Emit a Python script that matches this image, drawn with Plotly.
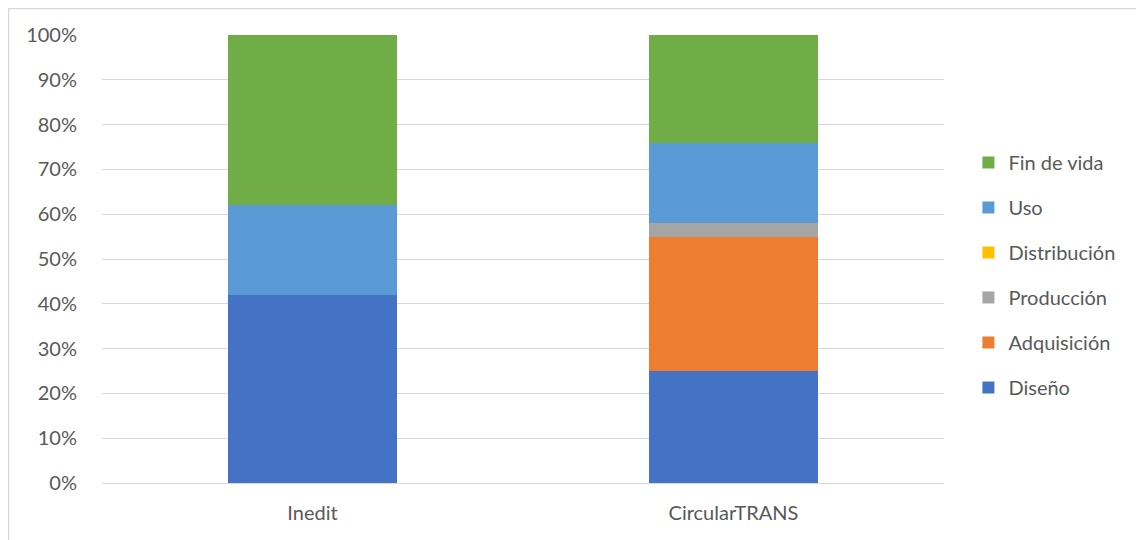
import plotly.graph_objects as go

categories = ["Inedit", "CircularTRANS"]
series_names = ["Diseño", "Adquisición", "Producción", "Distribución", "Uso", "Fin de vida"]
diseno = [42, 25]
adquisicion = [0, 30]
produccion = [0, 3]
distribucion = [0, 0]
uso = [20, 18]
fin_de_vida = [38, 24]
y_ticks = [0, 10, 20, 30, 40, 50, 60, 70, 80, 90, 100]

series_values = [diseno, adquisicion, produccion, distribucion, uso, fin_de_vida]
colors = ["#4472C4", "#ED7D31", "#A5A5A5", "#FFC000", "#5B9BD5", "#70AD47"]

fig = go.Figure()
n = len(series_names)
for i, (name, vals, col) in enumerate(zip(series_names, series_values, colors)):
    fig.add_trace(go.Bar(
        x=categories, y=vals, name=name, legendgroup=name,
        legendrank=n - i,
        marker=dict(color=col, line=dict(width=0)),
        width=0.4,
    ))

font_family = "Lato, 'Open Sans', sans-serif"
W, H = 1136, 532
L, T = 94, 27
PW, PH = 842, 448
fig.update_layout(
    barmode="stack",
    width=W, height=H,
    margin=dict(l=L, r=W - L - PW, t=T, b=H - T - PH),
    paper_bgcolor="white", plot_bgcolor="white",
    font=dict(family=font_family, size=20, color="#595959"),
    showlegend=True,
    legend=dict(
        traceorder="grouped", tracegroupgap=16,
        x=1.029, xanchor="left", y=0.759, yanchor="top",
        font=dict(size=20, color="#595959"),
        itemwidth=30, bgcolor="rgba(0,0,0,0)",
    ),
    xaxis=dict(
        showgrid=False, showline=True, linecolor="#D9D9D9", linewidth=1,
        ticks="outside", ticklen=12, tickcolor="rgba(0,0,0,0)",
        tickfont=dict(size=20, color="#595959"),
    ),
    yaxis=dict(
        range=[0, 100], tickvals=y_ticks, ticktext=[f"{v}%" for v in y_ticks],
        showgrid=True, gridcolor="#D9D9D9", gridwidth=1,
        zeroline=False, showline=False,
        ticks="outside", ticklen=20, tickcolor="rgba(0,0,0,0)",
        tickfont=dict(size=20, color="#595959"),
    ),
    shapes=[dict(
        type="rect", xref="paper", yref="paper",
        x0=(0.5 - L) / PW, x1=1.5, y0=-0.5, y1=1 + (T - 0.5) / PH,
        line=dict(color="#D9D9D9", width=1.5), fillcolor="rgba(0,0,0,0)", layer="below",
    )],
)

fig.write_html("out.html")
